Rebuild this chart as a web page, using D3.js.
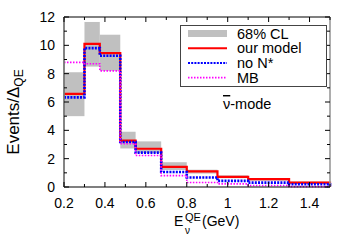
<!DOCTYPE html>
<html>
<head>
<meta charset="utf-8">
<script src="https://cdn.jsdelivr.net/npm/d3@7"></script>
<style>
  body { margin: 0; background: #fff; }
  svg text { font-family: "Liberation Sans", Arial, sans-serif; fill: #000; }
</style>
</head>
<body>
<svg id="chart" width="357" height="250"></svg>
<script>
// bin edges in E_nu^QE (GeV)
var edges = [0.2, 0.3, 0.375, 0.475, 0.55, 0.675, 0.8, 0.95, 1.1, 1.3, 1.5];
// histogram values per bin
var ourModel = [6.57, 10.1, 9.45, 3.28, 2.7, 1.42, 1.1, 0.71, 0.55, 0.31];
var noNstar  = [6.33, 9.8, 9.26, 3.18, 2.43, 1.06, 0.67, 0.43, 0.31, 0.19];
var mbData   = [8.8, 8.7, 8.2, 3.05, 2.22, 0.8, 0.32, 0.22, 0.11, 0.03];
// 68% CL band
var clLow  = [5.0, 8.5, 8.2, 2.72, 2.4, 1.2, 0.95, 0.62, 0.45, 0.24];
var clHigh = [8.1, 11.65, 10.75, 3.9, 3.22, 1.75, 1.22, 0.82, 0.62, 0.38];
var xTicks = [0.2, 0.4, 0.6, 0.8, 1, 1.2, 1.4];
var yTicks = [0, 2, 4, 6, 8, 10, 12];

var svg = d3.select("#chart");
var L = 64, R = 330, T = 17, B = 187;
var x = d3.scaleLinear().domain([0.2, 1.5]).range([L, R]);
var y = d3.scaleLinear().domain([0, 12]).range([B, T]);

// gray band
svg.append("g").selectAll("rect")
  .data(clLow)
  .enter().append("rect")
  .attr("x", function(d, i) { return x(edges[i]); })
  .attr("width", function(d, i) { return x(edges[i + 1]) - x(edges[i]); })
  .attr("y", function(d, i) { return y(clHigh[i]); })
  .attr("height", function(d, i) { return y(d) - y(clHigh[i]); })
  .attr("fill", "#c0c0c0");

function stepPts(vals) {
  var pts = vals.map(function(v, i) { return [edges[i], v]; });
  pts.push([edges[edges.length - 1], vals[vals.length - 1]]);
  pts.push([edges[edges.length - 1], 0]);
  return pts;
}
var line = d3.line()
  .x(function(d) { return x(d[0]); })
  .y(function(d) { return y(d[1]); })
  .curve(d3.curveStepAfter);

var series = [
  {vals: ourModel, color: "#ff0000", width: 2.2, dash: null},
  {vals: noNstar, color: "#0000ff", width: 2.6, dash: "2,1.2"},
  {vals: mbData, color: "#ff00ff", width: 1.6, dash: "1.5,1.5"}
];
series.forEach(function(s) {
  svg.append("path")
    .attr("d", line(stepPts(s.vals)))
    .attr("fill", "none")
    .attr("stroke", s.color)
    .attr("stroke-width", s.width)
    .attr("stroke-dasharray", s.dash);
});

// frame
svg.append("line").attr("x1", L).attr("x2", R).attr("y1", B).attr("y2", B).attr("stroke", "#000").attr("stroke-width", 1.2);
svg.append("line").attr("x1", L).attr("x2", R).attr("y1", T).attr("y2", T).attr("stroke", "#000").attr("stroke-width", 1);
svg.append("line").attr("x1", L).attr("x2", L).attr("y1", T).attr("y2", B).attr("stroke", "#777").attr("stroke-width", 1.8);
svg.append("line").attr("x1", R).attr("x2", R).attr("y1", T).attr("y2", B).attr("stroke", "#999").attr("stroke-width", 1.6);

// ticks (inward, mirrored)
var g = svg.append("g").attr("stroke", "#000").attr("stroke-width", 1);
d3.range(0.2, 1.501, 0.1).forEach(function(v) {
  var major = Math.abs(Math.round(v * 10) % 2) === 0;
  var len = major ? 5 : 3;
  g.append("line").attr("x1", x(v)).attr("x2", x(v)).attr("y1", B).attr("y2", B - len);
  g.append("line").attr("x1", x(v)).attr("x2", x(v)).attr("y1", T).attr("y2", T + len);
});
d3.range(0, 12.01, 1).forEach(function(v) {
  var len = v % 2 === 0 ? 5 : 3;
  g.append("line").attr("x1", L).attr("x2", L + len).attr("y1", y(v)).attr("y2", y(v));
  g.append("line").attr("x1", R).attr("x2", R - len).attr("y1", y(v)).attr("y2", y(v));
});

// tick labels
svg.append("g").selectAll("text").data(xTicks).enter().append("text")
  .attr("x", function(d) { return x(d); })
  .attr("y", 208)
  .attr("text-anchor", "middle")
  .attr("font-size", 14)
  .text(function(d) { return d3.format("")(d); });
svg.append("g").selectAll("text").data(yTicks).enter().append("text")
  .attr("x", 55)
  .attr("y", function(d) { return y(d) + 5; })
  .attr("text-anchor", "end")
  .attr("font-size", 14)
  .text(function(d) { return d; });

// axis titles
var xt = svg.append("text").attr("x", 174).attr("y", 226).attr("font-size", 14);
xt.append("tspan").text("E");
xt.append("tspan").attr("x", 185).attr("y", 221).attr("font-size", 11).text("QE");
xt.append("tspan").attr("x", 185).attr("y", 234).attr("font-size", 10).text("ν");
xt.append("tspan").attr("x", 202).attr("y", 226).text("(GeV)");

var yt = svg.append("text")
  .attr("transform", "translate(19,112) rotate(-90)")
  .attr("text-anchor", "middle")
  .attr("font-size", 17);
yt.append("tspan").text("Events/Δ");
yt.append("tspan").attr("dy", 4).attr("font-size", 12).text("QE");

// legend
svg.append("rect").attr("x", 180.5).attr("y", 25.5).attr("width", 146).attr("height", 61)
  .attr("fill", "#fff").attr("stroke", "#444").attr("stroke-width", 1);
var legItems = [
  {label: "68% CL", type: "band"},
  {label: "our model", s: series[0]},
  {label: "no N*", s: series[1]},
  {label: "MB", s: series[2]}
];
legItems.forEach(function(it, i) {
  var cy = 33.5 + i * 14.7;
  if (it.type === "band") {
    svg.append("rect").attr("x", 188).attr("y", cy - 3.5).attr("width", 39).attr("height", 7).attr("fill", "#c0c0c0");
  } else {
    svg.append("line").attr("x1", 188).attr("x2", 227).attr("y1", cy).attr("y2", cy)
      .attr("stroke", it.s.color).attr("stroke-width", Math.min(it.s.width, 2))
      .attr("stroke-dasharray", it.s.dash);
  }
  svg.append("text").attr("x", 237).attr("y", cy + 5).attr("font-size", 14.5).text(it.label);
});

// mode label
var ml = svg.append("text").attr("x", 223).attr("y", 109).attr("font-size", 14.5);
ml.append("tspan").style("text-decoration", "overline").text("ν");
ml.append("tspan").text("-mode");
</script>
</body>
</html>
